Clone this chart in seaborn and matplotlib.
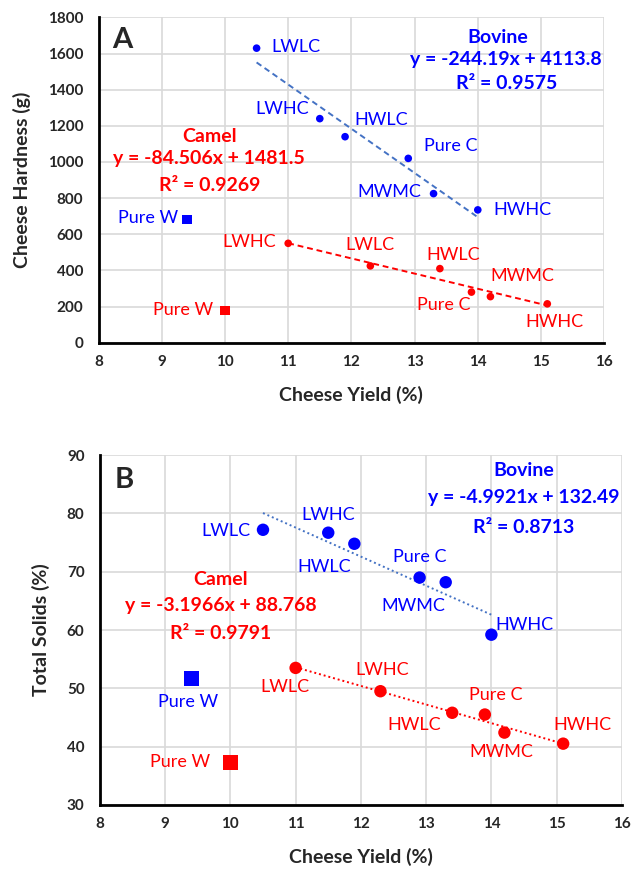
import numpy as np
import pandas as pd
import matplotlib
matplotlib.use("Agg")
import matplotlib.pyplot as plt
import seaborn as sns

# sample codes
bov_names = ["LWLC", "LWHC", "HWLC", "Pure C", "MWMC", "HWHC", "Pure W"]
cam_names_a = ["LWHC", "LWLC", "HWLC", "Pure C", "MWMC", "HWHC", "Pure W"]
cam_names_b = ["LWLC", "LWHC", "HWLC", "Pure C", "MWMC", "HWHC", "Pure W"]

# cheese yield (%)
bov_yield = [10.5, 11.5, 11.9, 12.9, 13.3, 14.0, 9.4]
cam_yield = [11.0, 12.3, 13.4, 13.9, 14.2, 15.1, 10.0]

# panel A: hardness (g)
bov_hard = [1630, 1240, 1140, 1020, 825, 735, 680]
cam_hard = [550, 425, 410, 280, 255, 215, 180]

# panel B: total solids (%)
bov_ts = [77.2, 76.7, 74.8, 69.0, 68.2, 59.2, 51.7]
cam_ts = [53.5, 49.5, 45.8, 45.5, 42.4, 40.5, 37.3]

bov_eq_a = ["Bovine", "y = -244.19x + 4113.8", "R² = 0.9575"]
cam_eq_a = ["Camel", "y = -84.506x + 1481.5", "R² = 0.9269"]
bov_eq_b = ["Bovine", "y = -4.9921x + 132.49", "R² = 0.8713"]
cam_eq_b = ["Camel", "y = -3.1966x + 88.768", "R² = 0.9791"]

BLUE = "#0000FF"
RED = "#FF0000"
LBLUE = "#4472C4"

sns.set_style("whitegrid")
plt.rcParams['font.family'] = ['Lato', 'DejaVu Sans']


def make_df(names_b, names_c, yb, yc):
    df = pd.DataFrame({
        "name": list(names_b) + list(names_c),
        "yield": list(bov_yield) + list(cam_yield),
        "value": list(yb) + list(yc),
        "milk": ["Bovine"] * len(yb) + ["Camel"] * len(yc),
    })
    df["kind"] = np.where(df["name"] == "Pure W", "pure", "blend")
    return df


def style_axes(ax, ylim, ystep, ylabel, letter):
    ax.set_xlim(8, 16)
    ax.set_ylim(*ylim)
    ax.set_xticks(range(8, 17))
    ax.set_yticks(np.arange(ylim[0], ylim[1] + 1, ystep))
    ax.grid(True, color="#d9d9d9", linewidth=1.2)
    for s in ["top", "right"]:
        ax.spines[s].set_visible(False)
    for s in ["left", "bottom"]:
        ax.spines[s].set_color("black")
        ax.spines[s].set_linewidth(2)
    ax.tick_params(length=0, labelsize=11)
    ax.tick_params(axis="y", pad=11)
    ax.tick_params(axis="x", pad=9)
    for t in ax.get_xticklabels() + ax.get_yticklabels():
        t.set_fontweight("bold")
    ax.set_xlabel("Cheese Yield (%)", fontsize=14, fontweight="bold", labelpad=12)
    ax.set_ylabel(ylabel, fontsize=14, fontweight="bold", labelpad=12)
    ax.text(8.38, ylim[0] + (ylim[1] - ylim[0]) * 0.93, letter, fontsize=21,
            fontweight="bold", ha="center", va="center")


def panel(ax, df, msize, ls, offsets_b, offsets_c):
    for milk, col, offs in [("Bovine", BLUE, offsets_b), ("Camel", RED, offsets_c)]:
        sub = df[df["milk"] == milk]
        blend = sub[sub["kind"] == "blend"]
        sns.regplot(data=blend, x="yield", y="value", ax=ax, scatter=False,
                    ci=None, truncate=True,
                    line_kws=dict(color=LBLUE if milk == "Bovine" else col,
                                  linestyle=ls, linewidth=1.4))
        sns.scatterplot(data=sub, x="yield", y="value", style="kind", size="kind",
                        markers={"blend": "o", "pure": "s"},
                        sizes={"blend": msize, "pure": msize * 1.5}, color=col,
                        edgecolor=col, linewidth=0, ax=ax, legend=False,
                        zorder=3)
        for (_, r), (dx, dy, ha) in zip(sub.iterrows(), offs):
            ax.annotate(r["name"], (r["yield"], r["value"]), xytext=(dx, dy),
                        textcoords="offset points", ha=ha, va="center",
                        color=col, fontsize=13)


fig = plt.figure(figsize=(6.32, 8.72), dpi=100)
axA = fig.add_axes([0.156, 0.607, 0.80, 0.373])
axB = fig.add_axes([0.158, 0.077, 0.826, 0.401])

# panel A
dfA = make_df(bov_names, cam_names_a, bov_hard, cam_hard)
offA_b = [(11, 1, "left"), (-8, 7, "right"), (6.5, 12, "left"), (11, 9, "left"),
          (-9, 1.5, "right"), (11, 0, "left"), (-6.5, 1, "right")]
offA_c = [(-8.5, 1, "right"), (0, 15, "center"), (9.7, 10, "center"),
          (-1, -9, "right"), (23, 15, "center"), (5, -13, "center"),
          (-8.5, 0, "right")]
panel(axA, dfA, 30, (0, (3, 2)), offA_b, offA_c)
style_axes(axA, (0, 1800), 200, "Cheese Hardness (g)", "A")
for txt, x, y in zip(bov_eq_a, [14.32, 14.45, 14.45], [1690, 1568, 1436]):
    axA.text(x, y, txt, color=BLUE, fontsize=14, fontweight="bold", ha="center", va="center")
for txt, y in zip(cam_eq_a, [1139, 1019, 872]):
    axA.text(9.75, y, txt, color=RED, fontsize=14, fontweight="bold", ha="center", va="center")

# panel B
dfB = make_df(bov_names, cam_names_b, bov_ts, cam_ts)
offB_b = [(-8.7, -1, "right"), (0, 12.5, "center"), (-22, -16.5, "center"),
          (0, 15, "center"), (-23, -17, "center"), (3, 7, "left"),
          (-2, -17, "center")]
offB_c = [(-7.5, -14, "center"), (1.5, 15.6, "center"), (-27.6, -8.6, "center"),
          (8, 14.4, "center"), (-2.3, -14, "center"), (13.6, 13.7, "center"),
          (-14.5, 0, "right")]
panel(axB, dfB, 80, (0, (1, 1.5)), offB_b, offB_c)
style_axes(axB, (30, 90), 10, "Total Solids (%)", "B")
for txt, y in zip(bov_eq_b, [87.3, 82.7, 77.6]):
    axB.text(14.5, y, txt, color=BLUE, fontsize=14, fontweight="bold", ha="center", va="center")
for txt, y in zip(cam_eq_b, [68.6, 64.2, 59.4]):
    axB.text(9.85, y, txt, color=RED, fontsize=14, fontweight="bold", ha="center", va="center")

fig.savefig("out.png", dpi=100)
